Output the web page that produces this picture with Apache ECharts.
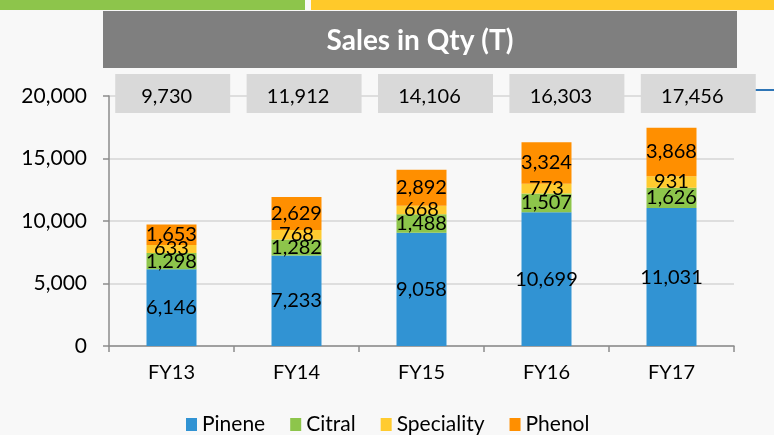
<!DOCTYPE html>
<html>
<head>
<meta charset="utf-8">
<title>Sales in Qty (T)</title>
<script src="https://cdn.jsdelivr.net/npm/echarts@6/dist/echarts.min.js"></script>
<style>
  html, body { margin: 0; padding: 0; background: #f8f8f8; }
  #chart { width: 774px; height: 435px; }
</style>
</head>
<body>
<div id="chart"></div>
<script>
// data
const years = ['FY13', 'FY14', 'FY15', 'FY16', 'FY17'];
const pinene = [6146, 7233, 9058, 10699, 11031];
const citral = [1298, 1282, 1488, 1507, 1626];
const speciality = [633, 768, 668, 773, 931];
const phenol = [1653, 2629, 2892, 3324, 3868];
const totals = [9730, 11912, 14106, 16303, 17456];
const yTicks = [0, 5000, 10000, 15000, 20000];

const FONT = 'Lato, "Open Sans", sans-serif';
const yMax = yTicks[yTicks.length - 1];

const chart = echarts.init(document.getElementById('chart'), null, { renderer: 'canvas' });

// one stacked bar series per product
function barSeries(name, color, values) {
  return {
    name: name,
    type: 'bar',
    stack: 'qty',
    barWidth: 50,
    xAxisIndex: 0,
    yAxisIndex: 0,
    itemStyle: { color: color },
    label: {
      show: true,
      position: 'inside',
      color: '#000',
      fontFamily: FONT,
      fontSize: 20,
      formatter: (p) => p.value.toLocaleString('en-US')
    },
    data: values
  };
}

const option = {
  backgroundColor: '#f8f8f8',
  animation: false,
  graphic: [
    // slide decoration strips
    { type: 'rect', shape: { x: 0, y: 0, width: 305, height: 10 }, style: { fill: '#8dc54b' } },
    { type: 'rect', shape: { x: 311, y: 0, width: 463, height: 10 }, style: { fill: '#ffc92a' } },
    { type: 'rect', shape: { x: 755, y: 89, width: 19, height: 2 }, style: { fill: '#2e75b6' } },
    // title box
    { type: 'rect', shape: { x: 103, y: 11, width: 634, height: 57 }, style: { fill: '#7f7f7f' } },
    {
      type: 'text', x: 420, y: 41,
      style: {
        text: 'Sales in Qty (T)', fill: '#fff', fontFamily: FONT, fontWeight: 'bold',
        fontSize: 28, align: 'center', verticalAlign: 'middle'
      }
    }
  ],
  legend: {
    left: 186,
    top: 414,
    padding: 0,
    icon: 'rect',
    itemWidth: 11,
    itemHeight: 13,
    itemGap: 25,
    textStyle: { color: '#000', fontFamily: FONT, fontSize: 21 },
    data: ['Pinene', 'Citral', 'Speciality', 'Phenol']
  },
  grid: [
    { left: 109, right: 40, top: 96, bottom: 89 },
    { left: 107, right: 10, top: 96, bottom: 89 }
  ],
  xAxis: [
    {
      type: 'category',
      gridIndex: 0,
      data: years,
      axisLine: { lineStyle: { color: '#8c8c8c', width: 1.5 } },
      axisTick: { show: true, length: 6, lineStyle: { color: '#8c8c8c', width: 1.5 } },
      axisLabel: { color: '#000', fontFamily: FONT, fontSize: 20, margin: 17 }
    },
    {
      type: 'category',
      gridIndex: 1,
      data: years,
      show: false
    }
  ],
  yAxis: [
    {
      type: 'value',
      gridIndex: 0,
      min: 0,
      max: yMax,
      interval: yTicks[1] - yTicks[0],
      axisLine: { show: true, lineStyle: { color: '#8c8c8c', width: 1.5 } },
      axisTick: { show: true, length: 6, lineStyle: { color: '#8c8c8c', width: 1.5 } },
      splitLine: { lineStyle: { color: '#d6d6d6', width: 1.5 } },
      axisLabel: {
        color: '#000', fontFamily: FONT, fontSize: 21, margin: 22,
        formatter: (v) => v.toLocaleString('en-US')
      }
    },
    { type: 'value', gridIndex: 1, min: 0, max: yMax, show: false }
  ],
  series: [
    barSeries('Pinene', '#3193d3', pinene),
    barSeries('Citral', '#8dc54b', citral),
    barSeries('Speciality', '#ffcb2f', speciality),
    barSeries('Phenol', '#ff8f00', phenol),
    {
      // grey total boxes above the bars
      name: 'Total',
      type: 'custom',
      xAxisIndex: 1,
      yAxisIndex: 1,
      data: totals.map((t, i) => [i, t]),
      renderItem: (params, api) => {
        const top = api.coord([api.value(0), yMax]);
        const band = api.size([1, 0])[0];
        const w = band * 0.875;
        return {
          type: 'group',
          children: [
            {
              type: 'rect',
              shape: { x: top[0] - w / 2, y: top[1] - 22, width: w, height: 39 },
              style: { fill: '#d9d9d9' }
            },
            {
              type: 'text',
              x: top[0] - 6,
              y: top[1] + 1,
              style: {
                text: api.value(1).toLocaleString('en-US'),
                fill: '#000', fontFamily: FONT, fontSize: 20,
                align: 'center', verticalAlign: 'middle'
              }
            }
          ]
        };
      }
    }
  ]
};

chart.setOption(option);
</script>
</body>
</html>
